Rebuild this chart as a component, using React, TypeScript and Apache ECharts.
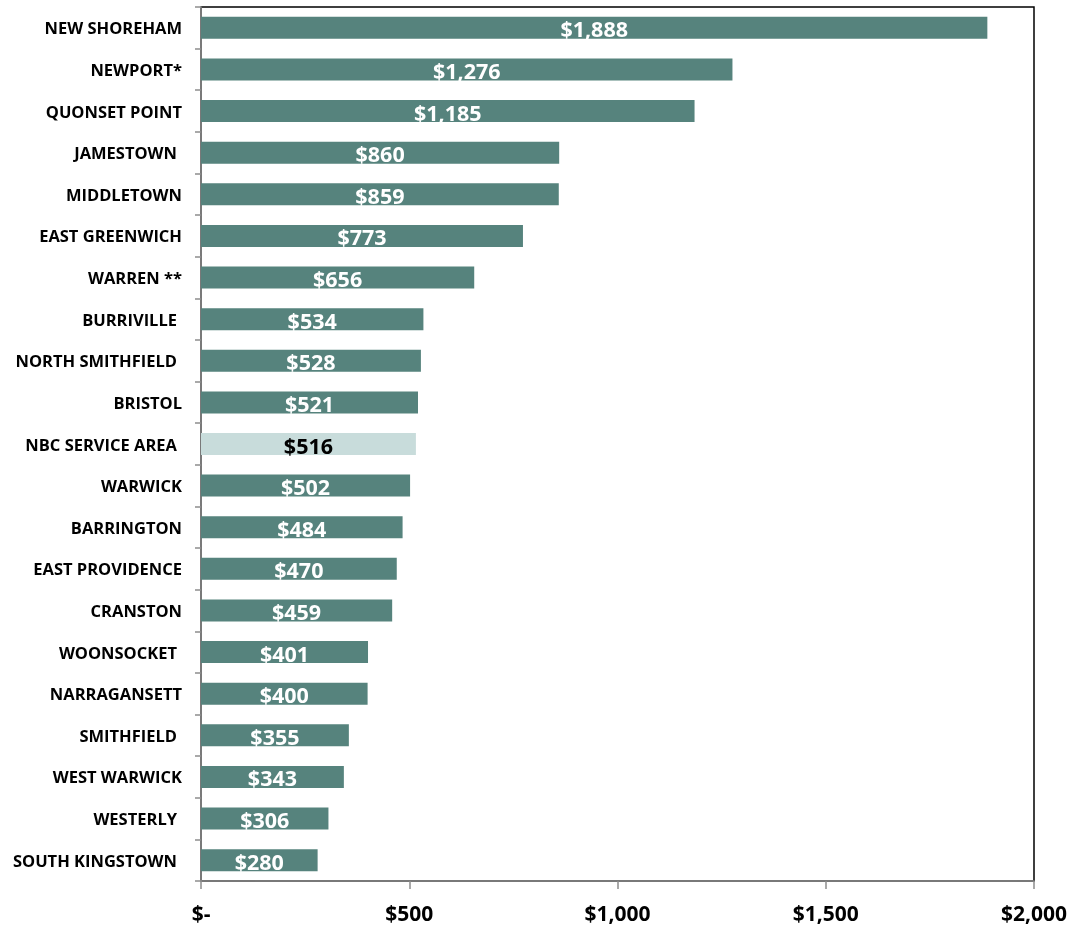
import React, { useEffect, useRef } from "react";
import * as echarts from "echarts";

const categories = [
  "NEW SHOREHAM",
  "NEWPORT*",
  "QUONSET POINT",
  "JAMESTOWN ",
  "MIDDLETOWN",
  "EAST GREENWICH",
  "WARREN **",
  "BURRIVILLE ",
  "NORTH SMITHFIELD ",
  "BRISTOL",
  "NBC SERVICE AREA ",
  "WARWICK",
  "BARRINGTON",
  "EAST PROVIDENCE",
  "CRANSTON",
  "WOONSOCKET ",
  "NARRAGANSETT",
  "SMITHFIELD ",
  "WEST WARWICK",
  "WESTERLY ",
  "SOUTH KINGSTOWN ",
];

const values = [
  1888, 1276, 1185, 860, 859, 773, 656, 534, 528, 521, 516, 502, 484, 470, 459,
  401, 400, 355, 343, 306, 280,
];

const highlighted = "NBC SERVICE AREA ";
const xTicks = { min: 0, max: 2000, interval: 500 };

const fmt = (v: number) => "$" + v.toLocaleString("en-US");
const FONT = "'Open Sans', sans-serif";

export default function App() {
  const ref = useRef<HTMLDivElement>(null);
  useEffect(() => {
    if (!ref.current) return;
    const chart = echarts.init(ref.current, undefined, { renderer: "svg" });
    const cat = { fontFamily: FONT, fontWeight: "bold", fontSize: 16.5, color: "#000" };
    chart.setOption({
      animation: false,
      grid: {
        left: 201,
        top: 7,
        right: 39,
        bottom: 45,
        show: true,
        borderColor: "#000",
        borderWidth: 1.5,
        containLabel: false,
      },
      xAxis: {
        type: "value",
        min: xTicks.min,
        max: xTicks.max,
        interval: xTicks.interval,
        splitLine: { show: false },
        axisLine: { show: true, lineStyle: { color: "#8c8c8c", width: 1.5 } },
        axisTick: { show: true, length: 8, lineStyle: { color: "#8c8c8c", width: 1.5 } },
        axisLabel: {
          margin: 21,
          color: "#000",
          fontFamily: FONT,
          fontWeight: "bold",
          fontSize: 21,
          formatter: (v: number) => (v === 0 ? "$-" : fmt(v)),
        },
      },
      yAxis: {
        type: "category",
        inverse: true,
        data: categories,
        axisLine: { show: true, lineStyle: { color: "#8c8c8c", width: 1.5 } },
        axisTick: { show: true, length: 6, lineStyle: { color: "#8c8c8c", width: 1.5 } },
        axisLabel: {
          margin: 19,
          ...cat,
          formatter: (v: string) =>
            v.endsWith(" ") ? `{s|${v.trim()}}` : `{n|${v}}`,
          rich: {
            n: { ...cat },
            s: { ...cat, padding: [0, 5, 0, 0] },
          },
        },
      },
      series: [
        {
          type: "bar",
          barWidth: 22,
          data: values.map((v, i) =>
            categories[i] === highlighted
              ? {
                  value: v,
                  itemStyle: { color: "#c8dcdb" },
                  label: { color: "#000" },
                }
              : { value: v }
          ),
          itemStyle: { color: "#56837d" },
          label: {
            show: true,
            position: "inside",
            offset: [0, 1],
            color: "#fff",
            fontFamily: FONT,
            fontWeight: "bold",
            fontSize: 21.5,
            formatter: (p: any) => fmt(p.value),
          },
        },
      ],
    });
    return () => chart.dispose();
  }, []);
  return (
    <div
      ref={ref}
      style={{ position: "fixed", left: 0, top: 0, width: 1073, height: 926 }}
    />
  );
}
